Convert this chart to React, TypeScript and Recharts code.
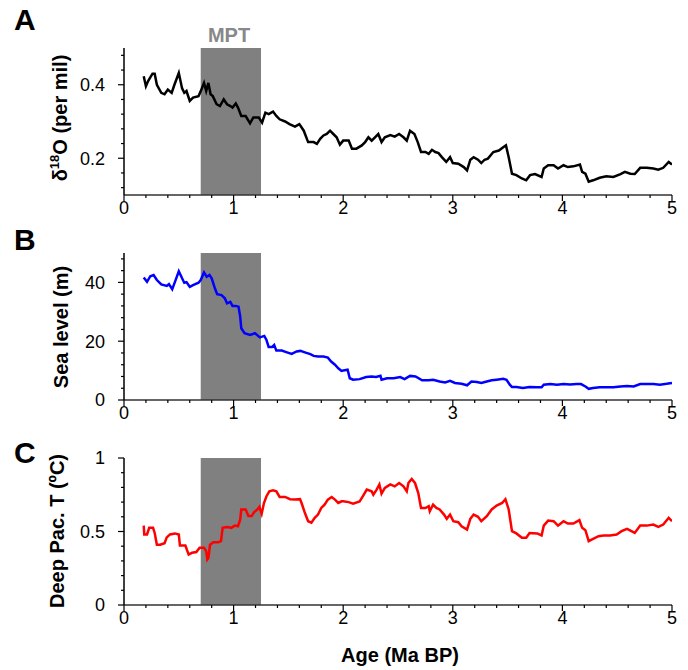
import { LineChart, Line, XAxis, YAxis, ReferenceArea } from 'recharts'

const FONT = '"Liberation Sans", Arial, Helvetica, sans-serif'

// x axis: age in Ma BP
const ageTicks = [0, 0.2, 0.4, 0.6, 0.8, 1, 1.2, 1.4, 1.6, 1.8, 2, 2.2, 2.4, 2.6, 2.8, 3, 3.2, 3.4, 3.6, 3.8, 4, 4.2, 4.4, 4.6, 4.8, 5]
const ageLabels = [0, 1, 2, 3, 4, 5]
const mptRange = [0.7, 1.25]

// A: benthic d18O (per mil)
const d18oAge = [0.18, 0.2, 0.22, 0.26, 0.28, 0.3, 0.34, 0.37, 0.4, 0.435, 0.46, 0.5, 0.53, 0.55, 0.57, 0.6, 0.63, 0.68, 0.71, 0.73, 0.75, 0.77, 0.79, 0.81, 0.845, 0.875, 0.91, 0.94, 0.97, 0.99, 1.02, 1.04, 1.07, 1.11, 1.15, 1.18, 1.23, 1.26, 1.29, 1.32, 1.36, 1.39, 1.42, 1.47, 1.51, 1.56, 1.6, 1.64, 1.68, 1.73, 1.76, 1.79, 1.82, 1.85, 1.88, 1.91, 1.94, 1.97, 2.0, 2.05, 2.08, 2.12, 2.17, 2.2, 2.23, 2.26, 2.29, 2.32, 2.35, 2.38, 2.43, 2.47, 2.51, 2.55, 2.58, 2.61, 2.65, 2.68, 2.71, 2.75, 2.78, 2.81, 2.84, 2.87, 2.9, 2.94, 2.975, 3.0, 3.05, 3.1, 3.13, 3.16, 3.19, 3.23, 3.26, 3.29, 3.32, 3.37, 3.42, 3.46, 3.485, 3.51, 3.54, 3.58, 3.63, 3.67, 3.705, 3.75, 3.81, 3.83, 3.87, 3.92, 3.96, 4.01, 4.05, 4.1, 4.16, 4.18, 4.21, 4.24, 4.28, 4.34, 4.4, 4.465, 4.53, 4.57, 4.62, 4.66, 4.71, 4.77, 4.83, 4.875, 4.92, 4.97, 5.0]
const d18oValue = [0.423, 0.396, 0.41, 0.43, 0.43, 0.4, 0.378, 0.374, 0.387, 0.378, 0.4, 0.432, 0.39, 0.378, 0.383, 0.356, 0.365, 0.369, 0.39, 0.405, 0.383, 0.405, 0.374, 0.369, 0.347, 0.342, 0.36, 0.347, 0.342, 0.338, 0.349, 0.338, 0.315, 0.315, 0.295, 0.311, 0.311, 0.297, 0.324, 0.32, 0.327, 0.315, 0.306, 0.3, 0.293, 0.286, 0.293, 0.275, 0.244, 0.244, 0.239, 0.253, 0.262, 0.266, 0.275, 0.266, 0.257, 0.237, 0.248, 0.248, 0.226, 0.226, 0.235, 0.244, 0.257, 0.248, 0.257, 0.266, 0.244, 0.257, 0.263, 0.259, 0.266, 0.257, 0.248, 0.275, 0.266, 0.244, 0.217, 0.217, 0.212, 0.223, 0.217, 0.214, 0.203, 0.19, 0.203, 0.187, 0.185, 0.176, 0.167, 0.196, 0.203, 0.196, 0.187, 0.196, 0.199, 0.217, 0.221, 0.23, 0.235, 0.203, 0.158, 0.154, 0.145, 0.14, 0.154, 0.157, 0.149, 0.172, 0.181, 0.181, 0.172, 0.181, 0.176, 0.178, 0.183, 0.163, 0.158, 0.136, 0.14, 0.147, 0.151, 0.149, 0.157, 0.163, 0.158, 0.157, 0.174, 0.174, 0.172, 0.169, 0.174, 0.19, 0.183]
const d18oTicks = [0.12, 0.16, 0.2, 0.24, 0.28, 0.32, 0.36, 0.4, 0.44, 0.48]
const d18oLabels = [0.2, 0.4]

// B: sea level (m)
const seaAge = [0.18, 0.21, 0.24, 0.27, 0.3, 0.34, 0.39, 0.41, 0.44, 0.465, 0.5, 0.53, 0.55, 0.57, 0.6, 0.63, 0.68, 0.7, 0.73, 0.755, 0.78, 0.8, 0.83, 0.85, 0.89, 0.92, 0.94, 0.97, 0.99, 1.02, 1.045, 1.06, 1.07, 1.1, 1.15, 1.195, 1.24, 1.28, 1.3, 1.32, 1.35, 1.37, 1.39, 1.44, 1.48, 1.53, 1.575, 1.61, 1.65, 1.7, 1.73, 1.77, 1.82, 1.86, 1.89, 1.925, 1.955, 1.985, 2.0, 2.04, 2.06, 2.09, 2.15, 2.21, 2.26, 2.3, 2.34, 2.35, 2.4, 2.46, 2.52, 2.56, 2.61, 2.66, 2.72, 2.78, 2.82, 2.88, 2.93, 2.975, 3.02, 3.08, 3.13, 3.17, 3.22, 3.26, 3.31, 3.355, 3.4, 3.46, 3.49, 3.52, 3.54, 3.58, 3.64, 3.7, 3.77, 3.81, 3.83, 3.89, 3.95, 4.01, 4.07, 4.13, 4.17, 4.21, 4.24, 4.28, 4.34, 4.4, 4.465, 4.53, 4.59, 4.65, 4.71, 4.77, 4.83, 4.89, 4.95, 5.0]
const seaValue = [41.7, 40.2, 42.1, 42.5, 40.8, 39.3, 38.8, 39.4, 37.7, 40.2, 43.8, 41.4, 39.9, 40.1, 38.5, 39.1, 39.9, 40.8, 43.4, 41.9, 42.5, 41.4, 37.9, 36.0, 35.7, 34.6, 32.9, 33.4, 32.0, 32.0, 31.7, 28.4, 24.4, 22.7, 22.1, 22.7, 21.3, 21.8, 20.4, 18.0, 18.0, 18.7, 16.8, 16.8, 16.3, 15.7, 16.5, 16.7, 16.2, 15.6, 15.0, 14.8, 14.8, 14.4, 13.1, 12.0, 10.8, 9.9, 10.0, 10.3, 7.4, 6.9, 7.1, 7.8, 8.0, 7.8, 8.2, 6.9, 7.4, 7.4, 7.8, 7.1, 8.2, 8.0, 6.7, 6.7, 6.9, 6.3, 6.0, 6.5, 5.8, 5.5, 5.0, 6.3, 6.1, 5.8, 6.3, 6.7, 6.9, 7.2, 6.9, 5.2, 4.4, 4.4, 4.1, 4.4, 4.3, 4.3, 5.2, 5.4, 5.2, 5.4, 5.3, 5.4, 5.4, 4.6, 3.8, 4.1, 4.3, 4.3, 4.3, 4.6, 4.8, 4.6, 5.4, 5.4, 5.4, 5.2, 5.5, 5.8]
const seaTicks = [0, 4, 8, 12, 16, 20, 24, 28, 32, 36, 40, 44, 48]
const seaLabels = [0, 20, 40]

// C: deep Pacific temperature (ºC)
const tempAge = [0.18, 0.185, 0.21, 0.23, 0.265, 0.28, 0.3, 0.33, 0.37, 0.39, 0.42, 0.465, 0.5, 0.51, 0.56, 0.59, 0.62, 0.66, 0.69, 0.73, 0.75, 0.76, 0.77, 0.785, 0.815, 0.86, 0.885, 0.9, 0.94, 0.98, 1.01, 1.04, 1.06, 1.07, 1.11, 1.135, 1.165, 1.186, 1.217, 1.235, 1.256, 1.277, 1.3, 1.326, 1.36, 1.39, 1.42, 1.47, 1.515, 1.56, 1.606, 1.62, 1.65, 1.68, 1.71, 1.74, 1.77, 1.8, 1.83, 1.86, 1.895, 1.925, 1.955, 1.986, 2.0, 2.05, 2.09, 2.15, 2.18, 2.215, 2.26, 2.275, 2.305, 2.33, 2.35, 2.38, 2.43, 2.47, 2.51, 2.55, 2.58, 2.595, 2.625, 2.655, 2.685, 2.71, 2.75, 2.78, 2.79, 2.82, 2.85, 2.88, 2.92, 2.945, 2.975, 3.005, 3.05, 3.08, 3.13, 3.16, 3.19, 3.23, 3.26, 3.31, 3.355, 3.4, 3.45, 3.48, 3.51, 3.54, 3.58, 3.63, 3.67, 3.7, 3.77, 3.81, 3.83, 3.87, 3.92, 3.96, 4.01, 4.05, 4.1, 4.155, 4.18, 4.21, 4.24, 4.28, 4.33, 4.375, 4.435, 4.495, 4.54, 4.59, 4.63, 4.66, 4.71, 4.77, 4.83, 4.875, 4.92, 4.97, 5.0]
const tempValue = [0.54, 0.48, 0.48, 0.525, 0.525, 0.49, 0.41, 0.41, 0.42, 0.46, 0.48, 0.487, 0.48, 0.405, 0.405, 0.343, 0.355, 0.36, 0.39, 0.39, 0.366, 0.31, 0.32, 0.41, 0.427, 0.427, 0.434, 0.525, 0.53, 0.525, 0.54, 0.536, 0.58, 0.65, 0.65, 0.605, 0.605, 0.63, 0.65, 0.667, 0.62, 0.694, 0.74, 0.773, 0.78, 0.773, 0.735, 0.735, 0.72, 0.717, 0.72, 0.694, 0.627, 0.57, 0.56, 0.593, 0.615, 0.66, 0.683, 0.717, 0.735, 0.717, 0.694, 0.705, 0.705, 0.7, 0.69, 0.705, 0.74, 0.785, 0.773, 0.75, 0.785, 0.82, 0.757, 0.796, 0.82, 0.807, 0.83, 0.807, 0.773, 0.83, 0.857, 0.83, 0.762, 0.66, 0.66, 0.672, 0.638, 0.683, 0.66, 0.65, 0.615, 0.586, 0.615, 0.57, 0.563, 0.536, 0.513, 0.586, 0.615, 0.6, 0.57, 0.604, 0.65, 0.676, 0.694, 0.72, 0.65, 0.502, 0.487, 0.457, 0.457, 0.49, 0.487, 0.473, 0.54, 0.574, 0.57, 0.54, 0.57, 0.554, 0.554, 0.577, 0.525, 0.509, 0.434, 0.45, 0.468, 0.473, 0.473, 0.48, 0.502, 0.518, 0.502, 0.49, 0.54, 0.54, 0.547, 0.531, 0.547, 0.593, 0.57]
const tempTicks = [0, 0.1, 0.2, 0.3, 0.4, 0.5, 0.6, 0.7, 0.8, 0.9, 1]
const tempLabels = [0, 0.5, 1]

const toRows = (ages: number[], vals: number[]) => ages.map((age, i) => ({ age, v: vals[i] }))

const isIn = (list: number[], v: number) => list.some(t => Math.abs(t - v) < 1e-6)

function XTick(props: any) {
  const { x, y, payload } = props
  const major = isIn(ageLabels, payload.value)
  return (
    <g>
      <line x1={x} x2={x} y1={y} y2={y + (major ? 6 : 3)} stroke="#000" strokeWidth={1.2} />
      {major && (
        <text x={x} y={y + 19} textAnchor="middle" fontSize={18} fontFamily={FONT} fill="#000">
          {payload.value}
        </text>
      )}
    </g>
  )
}

const makeYTick = (labels: number[]) => (props: any) => {
  const { x, y, payload } = props
  const major = isIn(labels, payload.value)
  return (
    <g>
      <line x1={x - (major ? 6 : 3)} x2={x} y1={y} y2={y} stroke="#000" strokeWidth={1.2} />
      {major && (
        <text x={x - 19} y={y} dy="0.36em" textAnchor="end" fontSize={18} fontFamily={FONT} fill="#000">
          {payload.value}
        </text>
      )}
    </g>
  )
}

interface PanelProps {
  top: number
  rows: { age: number; v: number }[]
  color: string
  domain: [number, number]
  ticks: number[]
  labels: number[]
}

function Panel({ top, rows, color, domain, ticks, labels }: PanelProps) {
  return (
    <div style={{ position: 'absolute', left: 0, top }}>
      <LineChart width={688} height={190} data={rows} margin={{ top: 10, right: 16, bottom: 0, left: 0 }}>
        <XAxis dataKey="age" type="number" domain={[0, 5]} ticks={ageTicks} interval={0}
          tick={XTick} tickLine={false} tickSize={0} tickMargin={0} height={33}
          axisLine={{ stroke: '#333', strokeWidth: 1.5 }} allowDataOverflow />
        <YAxis type="number" domain={domain} ticks={ticks} interval={0}
          tick={makeYTick(labels)} tickLine={false} tickSize={0} tickMargin={0} width={124}
          axisLine={{ stroke: '#000', strokeWidth: 1.5 }} allowDataOverflow />
        <ReferenceArea x1={mptRange[0]} x2={mptRange[1]} y1={domain[0]} y2={domain[1]}
          fill="#808080" fillOpacity={1} stroke="none" />
        <Line dataKey="v" type="linear" stroke={color} strokeWidth={2.5} dot={false}
          isAnimationActive={false} />
      </LineChart>
    </div>
  )
}

export default function App() {
  return (
    <div style={{ position: 'absolute', left: 0, top: 0, width: 688, height: 670, background: '#fff', fontFamily: FONT }}>
      <Panel top={38} rows={toRows(d18oAge, d18oValue)} color="#000" domain={[0.1, 0.5]} ticks={d18oTicks} labels={d18oLabels} />
      <Panel top={243} rows={toRows(seaAge, seaValue)} color="#0000ff" domain={[0, 50]} ticks={seaTicks} labels={seaLabels} />
      <Panel top={448} rows={toRows(tempAge, tempValue)} color="#ff0000" domain={[0, 1]} ticks={tempTicks} labels={tempLabels} />

      <svg width={688} height={670} style={{ position: 'absolute', left: 0, top: 0, pointerEvents: 'none' }}
        fontFamily={FONT} fontWeight="bold">
        <text x={14} y={30} fontSize={30}>A</text>
        <text x={14} y={250} fontSize={30}>B</text>
        <text x={14} y={463} fontSize={30}>C</text>
        <text x={229} y={42} fontSize={20} fill="#888" textAnchor="middle">MPT</text>

        <text transform="translate(67,118) rotate(-90)" fontSize={20} textAnchor="middle">
          δ<tspan dy={-8} fontSize={13}>18</tspan><tspan dy={8}>O (per mil)</tspan>
        </text>
        <text transform="translate(67.5,327) rotate(-90)" fontSize={20} textAnchor="middle">Sea level (m)</text>
        <text transform="translate(64,531) rotate(-90)" fontSize={20} textAnchor="middle">Deep Pac. T (ºC)</text>

        <text x={400} y={662} fontSize={20} textAnchor="middle">Age (Ma BP)</text>
      </svg>
    </div>
  )
}
